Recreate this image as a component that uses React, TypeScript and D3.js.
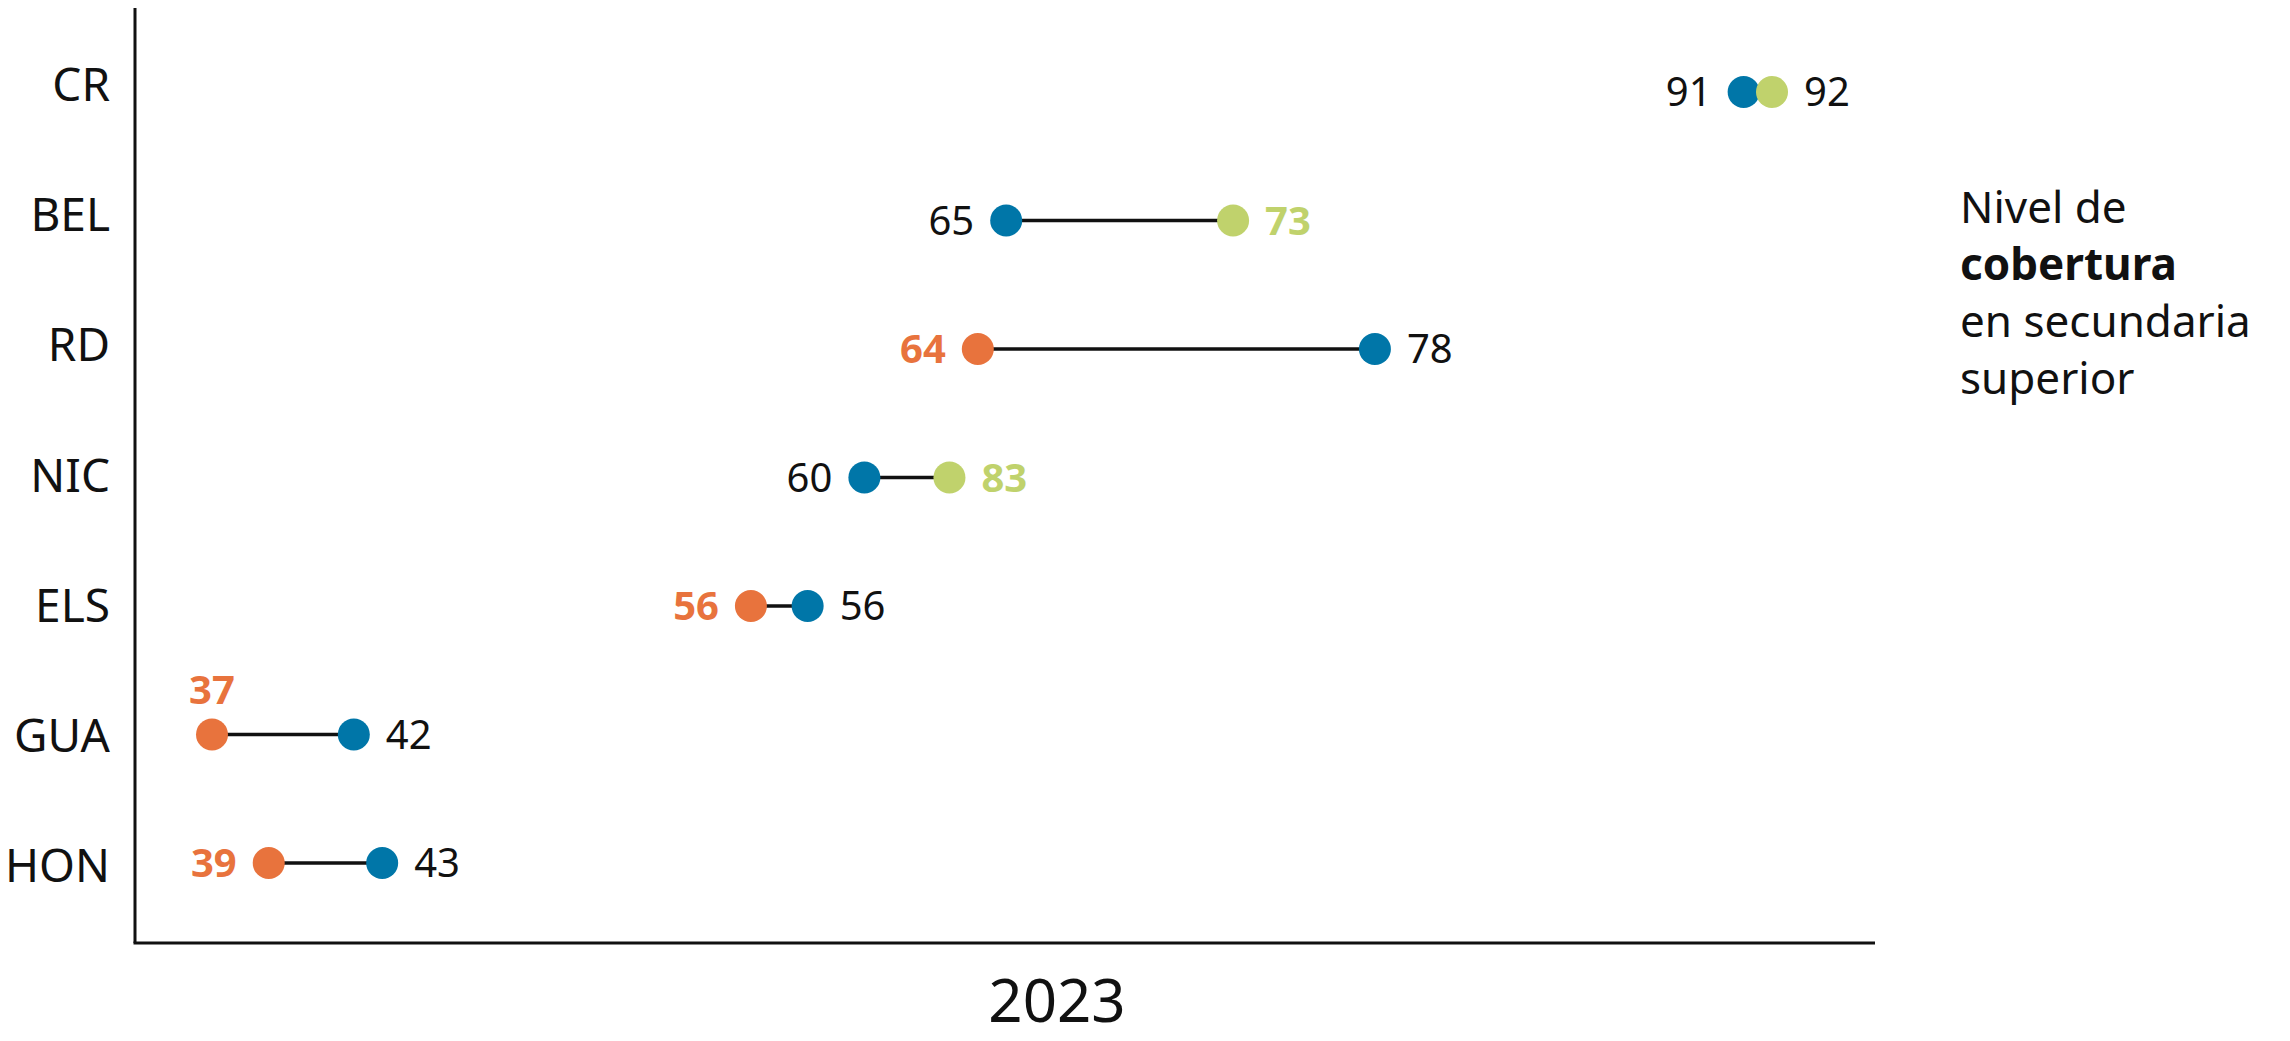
import * as d3 from 'd3'
import { useEffect, useRef } from 'react'

const W = 2290
const H = 1041
const axisX = 135
const axisTop = 8
const axisY = 943
const axisRight = 1875

const categories = ['CR', 'BEL', 'RD', 'NIC', 'ELS', 'GUA', 'HON']

// plotted position of each dot
const blueValues = [91, 65, 78, 60, 58, 42, 43]
const orangeValues = [null, null, 64, null, 56, 37, 39]
const greenValues = [92, 73, null, 63, null, null, null]

// printed labels (two of them differ from where the dot sits)
const blueLabels = ['91', '65', '78', '60', '56', '42', '43']
const orangeLabels = [null, null, '64', null, '56', '37', '39']
const greenLabels = ['92', '73', null, '83', null, null, null]

const plainLabelRows = new Set(['CR'])

const xTitle = '2023'
const noteLines = [
  { text: 'Nivel de', bold: false },
  { text: 'cobertura', bold: true },
  { text: 'en secundaria', bold: false },
  { text: 'superior', bold: false },
]

const colors = { orange: '#E8733D', blue: '#0076A8', green: '#C0D26C' }
const font = '"Noto Sans", sans-serif'

export default function App() {
  const ref = useRef<SVGSVGElement>(null)

  useEffect(() => {
    const svg = d3.select(ref.current)
    svg.selectAll('*').remove()

    const allValues = [...blueValues, ...orangeValues, ...greenValues].filter(
      (v) => v != null
    ) as number[]
    const x = d3
      .scaleLinear()
      .domain(d3.extent(allValues) as [number, number])
      .range([212, 1772])
    const y = d3.scalePoint().domain(categories).range([92, 863])
    const yLabel = d3.scalePoint().domain(categories).range([84, 865])

    const rows = categories.map((cat, i) => {
      const pts = [
        { series: 'orange', value: orangeValues[i], label: orangeLabels[i] },
        { series: 'blue', value: blueValues[i], label: blueLabels[i] },
        { series: 'green', value: greenValues[i], label: greenLabels[i] },
      ].filter((p) => p.value != null) as { series: string; value: number; label: string }[]
      return { cat, pts }
    })

    // category axis
    const ga = svg
      .append('g')
      .attr('transform', `translate(${axisX},0)`)
      .call(d3.axisLeft(yLabel).tickSize(0).tickPadding(25))
    ga.select('.domain').remove()
    ga.selectAll('text')
      .attr('font-family', font)
      .attr('font-size', 46)
      .attr('fill', '#111')
      .attr('dy', '0.36em')

    svg
      .append('line')
      .attr('x1', axisX)
      .attr('x2', axisX)
      .attr('y1', axisTop)
      .attr('y2', axisY)
      .attr('stroke', '#111')
      .attr('stroke-width', 3)
    svg
      .append('line')
      .attr('x1', axisX - 1.5)
      .attr('x2', axisRight)
      .attr('y1', axisY)
      .attr('y2', axisY)
      .attr('stroke', '#111')
      .attr('stroke-width', 3)

    const r = 16
    const offset = 32
    const labelSize = 40

    rows.forEach((row) => {
      const cy = y(row.cat)!
      const vals = row.pts.map((p) => p.value)
      const lo = d3.min(vals)!
      const hi = d3.max(vals)!

      svg
        .append('line')
        .attr('x1', x(lo))
        .attr('x2', x(hi))
        .attr('y1', cy)
        .attr('y2', cy)
        .attr('stroke', '#111')
        .attr('stroke-width', 3.5)

      row.pts.forEach((p) => {
        svg
          .append('circle')
          .attr('cx', x(p.value))
          .attr('cy', cy)
          .attr('r', r)
          .attr('fill', (colors as any)[p.series])
      })

      const sorted = [...row.pts].sort((a, b) => a.value - b.value)
      sorted.forEach((p, j) => {
        const bold = p.series !== 'blue' && !plainLabelRows.has(row.cat)
        const fill = bold ? (colors as any)[p.series] : '#111'
        const t = svg
          .append('text')
          .text(p.label)
          .attr('font-family', font)
          .attr('font-size', labelSize)
          .attr('font-weight', bold ? 700 : 400)
          .attr('fill', fill)
        const px = x(p.value)
        const w = p.label.length * labelSize * 0.6
        if (j === 0) {
          if (px - offset - w < axisX + 15) {
            t.attr('x', px).attr('y', cy - r - 15).attr('text-anchor', 'middle')
          } else {
            t.attr('x', px - offset).attr('y', cy).attr('dy', '0.36em').attr('text-anchor', 'end')
          }
        } else {
          t.attr('x', px + offset).attr('y', cy).attr('dy', '0.36em').attr('text-anchor', 'start')
        }
      })
    })

    svg
      .append('text')
      .text(xTitle)
      .attr('x', 1057)
      .attr('y', 1022)
      .attr('text-anchor', 'middle')
      .attr('font-family', font)
      .attr('font-size', 60)
      .attr('fill', '#111')

    const note = svg
      .append('text')
      .attr('x', 1960)
      .attr('y', 223)
      .attr('font-family', font)
      .attr('font-size', 44)
      .attr('fill', '#111')
    noteLines.forEach((l, i) => {
      note
        .append('tspan')
        .attr('x', 1960)
        .attr('dy', i === 0 ? 0 : 57)
        .attr('font-weight', l.bold ? 700 : 400)
        .text(l.text)
    })
  }, [])

  return (
    <svg
      ref={ref}
      width={W}
      height={H}
      style={{ position: 'absolute', left: 0, top: 0, background: '#fff' }}
    />
  )
}
